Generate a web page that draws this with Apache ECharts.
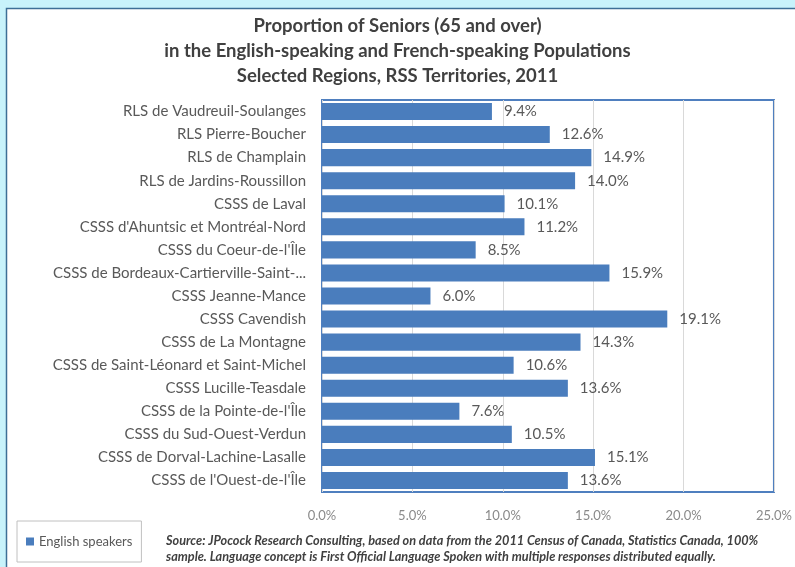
<!DOCTYPE html>
<html>
<head>
<meta charset="utf-8">
<script src="https://cdn.jsdelivr.net/npm/echarts@6/dist/echarts.min.js"></script>
<style>
html,body{margin:0;padding:0;background:#c8f3fb;}
#main{width:795px;height:567px;}
</style>
</head>
<body>
<div id="main"></div>
<script>
var titleLines = ['Proportion of Seniors (65 and over)', 'in the English-speaking and French-speaking Populations', 'Selected Regions, RSS Territories, 2011'];
var categories = [
  'RLS de Vaudreuil-Soulanges',
  'RLS Pierre-Boucher',
  'RLS de Champlain',
  'RLS de Jardins-Roussillon',
  'CSSS de Laval',
  "CSSS d'Ahuntsic et Montréal-Nord",
  "CSSS du Coeur-de-l'Île",
  'CSSS de Bordeaux-Cartierville-Saint-...',
  'CSSS Jeanne-Mance',
  'CSSS Cavendish',
  'CSSS de La Montagne',
  'CSSS de Saint-Léonard et Saint-Michel',
  'CSSS Lucille-Teasdale',
  "CSSS de la Pointe-de-l'Île",
  'CSSS du Sud-Ouest-Verdun',
  'CSSS de Dorval-Lachine-Lasalle',
  "CSSS de l'Ouest-de-l'Île"
];
var englishSpeakers = [9.4, 12.6, 14.9, 14.0, 10.1, 11.2, 8.5, 15.9, 6.0, 19.1, 14.3, 10.6, 13.6, 7.6, 10.5, 15.1, 13.6];
var seriesName = 'English speakers';
var xTicks = {min: 0, max: 25, interval: 5};
var sourceLines = [
  'Source: JPocock Research Consulting, based on data from the 2011 Census of Canada, Statistics Canada, 100%',
  'sample. Language concept is First Official Language Spoken with multiple responses distributed equally.'
];

var chart = echarts.init(document.getElementById('main'), null, {renderer: 'canvas'});
var font = 'Lato, "Open Sans", sans-serif';
chart.setOption({
  backgroundColor: '#c8f3fb',
  animation: false,
  graphic: [
    {type: 'rect', z: -10, shape: {x: 6.5, y: 8.5, width: 800, height: 570},
     style: {fill: '#ffffff', stroke: '#3d6f96', lineWidth: 1.5}},
    {type: 'text', left: 'center', top: 14, z: 10,
     style: {text: titleLines.join('\n'), font: 'bold 18.5px ' + font, fill: '#404040',
             textAlign: 'center', lineHeight: 25}},
    {type: 'text', left: 166, top: 533, z: 10,
     style: {text: sourceLines.join('\n'), font: 'italic bold 12.7px ' + font, fill: '#404040', lineHeight: 16}}
  ],
  legend: {
    data: [seriesName], left: 17, top: 521, icon: 'rect', itemWidth: 8, itemHeight: 8, itemGap: 5,
    padding: [14, 9, 14, 9], borderColor: '#c0c0c0', borderWidth: 1,
    textStyle: {fontFamily: font, fontSize: 13, color: '#595959'}
  },
  grid: {left: 322, top: 100, right: 17, bottom: 75, show: true, borderColor: '#4f7fbf', borderWidth: 2, backgroundColor: 'transparent'},
  xAxis: {
    type: 'value', min: xTicks.min, max: xTicks.max, interval: xTicks.interval,
    axisLine: {show: false}, axisTick: {show: false},
    splitLine: {lineStyle: {color: '#d9d9d9'}},
    axisLabel: {margin: 17, color: '#8a8a8a', fontFamily: font, fontSize: 13,
      formatter: function (v) { return v.toFixed(1) + '%'; }}
  },
  yAxis: {
    type: 'category', data: categories, inverse: true,
    axisLine: {show: false}, axisTick: {show: false},
    axisLabel: {margin: 16, color: '#595959', fontFamily: font, fontSize: 15}
  },
  series: [{
    name: seriesName, type: 'bar', data: englishSpeakers, barCategoryGap: '26%',
    itemStyle: {color: '#4a7dbd'},
    label: {show: true, position: 'right', distance: 12, color: '#595959', fontFamily: font, fontSize: 15,
      formatter: function (p) { return p.value.toFixed(1) + '%'; }}
  }]
});
</script>
</body>
</html>
